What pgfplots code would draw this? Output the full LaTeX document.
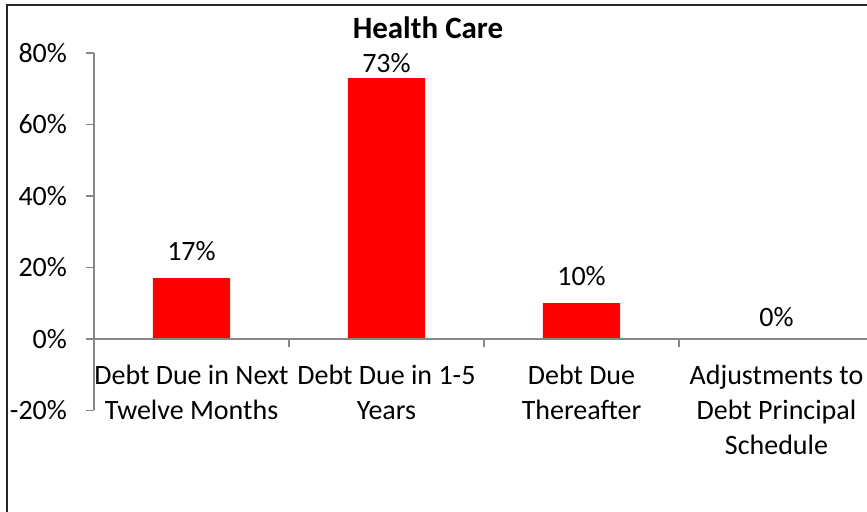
\documentclass[border=0pt]{standalone}
\usepackage{fontspec}
\setmainfont{Carlito}
\usepackage{pgfplots}
\pgfplotsset{compat=1.18}
\definecolor{axisgray}{HTML}{878787}
\begin{document}
\begin{tikzpicture}[x=1pt,y=1pt]
\path[use as bounding box] (0,0) rectangle (433.5,256);
\clip (0,0) rectangle (433.5,256);
\draw[line width=1.2pt, black!85] (3.5,-20) rectangle (460,253.5);
\node[font=\fontsize{15.5}{18}\selectfont\bfseries] at (214,242) {Health Care};
\begin{axis}[
  at={(47pt,50.75pt)}, anchor=south west,
  scale only axis, width=390pt, height=178.75pt,
  ymin=-20, ymax=80, xmin=-0.5, xmax=3.5,
  axis y line=left, axis x line=middle,
  axis on top,
  axis line style={-, axisgray, line width=0.7pt},
  hide obscured x ticks=false, hide obscured y ticks=false,
  ytick={-20,0,20,40,60,80},
  yticklabels={-20\%,0\%,20\%,40\%,60\%,80\%},
  xtick={0,1,2,3},
  xticklabels={{Debt Due in Next\\Twelve Months},{Debt Due in 1-5\\Years},{Debt Due\\Thereafter},{Adjustments to\\Debt Principal\\Schedule}},
  minor xtick={0.5,1.5,2.5},
  tick align=outside,
  major tick length=4pt, minor tick length=4pt,
  major x tick style={draw=none},
  minor x tick style={axisgray, line width=0.7pt},
  y tick style={axisgray, line width=0.7pt},
  tick label style={font=\fontsize{14}{17.5}\selectfont},
  xticklabel style={align=center, anchor=north, yshift=-5.5pt},
  yticklabel style={xshift=-6pt},
  /pgf/number format/assume math mode=true,
  ybar, bar width=0.395,
  nodes near coords={\pgfmathprintnumber{\pgfplotspointmeta}\%},
  visualization depends on={rawy \as \rawy},
  every node near coord/.append style={font=\fontsize{14}{17.5}\selectfont, black,
    yshift={5-6*(\rawy>50)-2.5*(\rawy<1)}},
]
\addplot[fill=red, draw=none] coordinates {(0,17) (1,73) (2,10) (3,0)};
\end{axis}
\end{tikzpicture}
\end{document}
